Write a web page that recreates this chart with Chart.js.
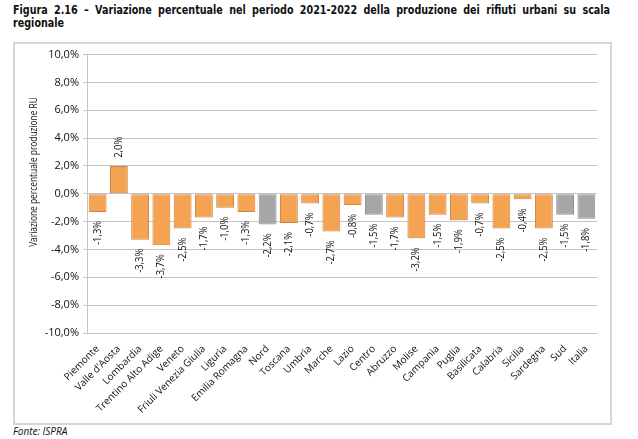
<!DOCTYPE html>
<html lang="it">

<head>
    <meta charset="UTF-8">
    <title>Figura 2.16</title>
    <script src="https://cdn.jsdelivr.net/npm/chart.js"></script>
    <style>
        body { margin: 0; background: #fff; font-family: "Open Sans", sans-serif; }
        #title {
            position: absolute; left: 13px; top: 3px; width: 700px;
            transform: scaleX(0.853); transform-origin: left top;
            font-family: "DejaVu Sans Condensed", sans-serif;
            font-weight: bold; font-size: 12.5px; line-height: 13px; color: #111;
            text-align: justify;
        }
        #frame {
            position: absolute; left: 13px; top: 42px; width: 599px; height: 383px;
            box-sizing: border-box; border: 2px solid #d6d6d6;
        }
        #source {
            position: absolute; left: 13px; top: 424px;
            font-style: italic; font-size: 10px; color: #111;
        }
    </style>
</head>

<body>
    <div id="title">Figura 2.16 – Variazione percentuale nel periodo 2021-2022 della produzione dei rifiuti urbani su scala regionale</div>
    <div id="frame"><canvas id="chart" width="595" height="379"></canvas></div>
    <div id="source">Fonte: ISPRA</div>

    <script>
        // regioni e macroaree
        var categories = ['Piemonte', "Valle d'Aosta", 'Lombardia', 'Trentino Alto Adige', 'Veneto',
            'Friuli Venezia Giulia', 'Liguria', 'Emilia Romagna', 'Nord', 'Toscana', 'Umbria', 'Marche',
            'Lazio', 'Centro', 'Abruzzo', 'Molise', 'Campania', 'Puglia', 'Basilicata', 'Calabria',
            'Sicilia', 'Sardegna', 'Sud', 'Italia'];

        // variazione percentuale 2021-2022
        var values = [-1.3, 2.0, -3.3, -3.7, -2.5, -1.7, -1.0, -1.3, -2.2, -2.1, -0.7, -2.7,
            -0.8, -1.5, -1.7, -3.2, -1.5, -1.9, -0.7, -2.5, -0.4, -2.5, -1.5, -1.8];

        // aggregati (barre grigie)
        var aggregates = ['Nord', 'Centro', 'Sud', 'Italia'];

        var yTicks = [-10, -8, -6, -4, -2, 0, 2, 4, 6, 8, 10];
        var yTitle = 'Variazione percentuale produzione RU';

        function fmt(v, dec) {
            return v.toFixed(dec).replace('.', ',') + '%';
        }

        var fills = categories.map(c => aggregates.includes(c) ? '#a6a6a6' : '#f4a352');
        var borders = categories.map(c => aggregates.includes(c) ? '#8e8e8e' : '#cd8240');

        // etichette verticali sopra/sotto le barre + titolo asse y
        var valueLabels = {
            id: 'valueLabels',
            afterDatasetsDraw(chart) {
                var ctx = chart.ctx;
                var meta = chart.getDatasetMeta(0);
                ctx.save();
                ctx.font = '10.5px "Open Sans"';
                ctx.fillStyle = '#111';
                ctx.textBaseline = 'middle';
                meta.data.forEach((bar, i) => {
                    var v = values[i];
                    ctx.save();
                    ctx.translate(bar.x, bar.y);
                    ctx.rotate(-Math.PI / 2);
                    ctx.scale(0.9, 1);
                    if (v < 0) {
                        ctx.textAlign = 'right';
                        ctx.fillText(fmt(v, 1), -10, 0);
                    } else {
                        ctx.textAlign = 'left';
                        ctx.fillText(fmt(v, 1), 9, 0);
                    }
                    ctx.restore();
                });

                // titolo asse y, leggermente condensato
                ctx.translate(19, 128);
                ctx.rotate(-Math.PI / 2);
                ctx.scale(0.76, 1);
                ctx.font = '11px "Open Sans"';
                ctx.textAlign = 'center';
                ctx.fillText(yTitle, 0, 0);
                ctx.restore();
            }
        };

        var ctx = document.getElementById('chart').getContext('2d');
        new Chart(ctx, {
            type: 'bar',
            data: {
                labels: categories,
                datasets: [{
                    data: values,
                    backgroundColor: fills,
                    borderColor: borders,
                    borderWidth: 1,
                    borderSkipped: false,
                    categoryPercentage: 1,
                    barPercentage: 0.84
                }]
            },
            options: {
                responsive: false,
                animation: false,
                layout: { padding: { top: 5, right: 13, left: 0, bottom: 0 } },
                plugins: { legend: { display: false }, tooltip: { enabled: false } },
                scales: {
                    x: {
                        grid: { display: false },
                        border: { display: false },
                        ticks: {
                            color: '#111', font: { size: 10, family: 'Open Sans' },
                            minRotation: 45, maxRotation: 45, autoSkip: false, padding: 2
                        },
                        afterFit(scale) { scale.height = 90; }
                    },
                    y: {
                        min: -10, max: 10,
                        afterBuildTicks(scale) { scale.ticks = yTicks.map(v => ({ value: v })); },
                        grid: { color: '#c4c4c4', tickLength: 4 },
                        border: { color: '#c4c4c4' },
                        ticks: {
                            color: '#111', font: { size: 11, family: 'Open Sans' }, padding: 4,
                            callback: v => fmt(v, 1)
                        },
                        afterFit(scale) { scale.width = 72; }
                    }
                }
            },
            plugins: [valueLabels]
        });
    </script>
</body>

</html>
